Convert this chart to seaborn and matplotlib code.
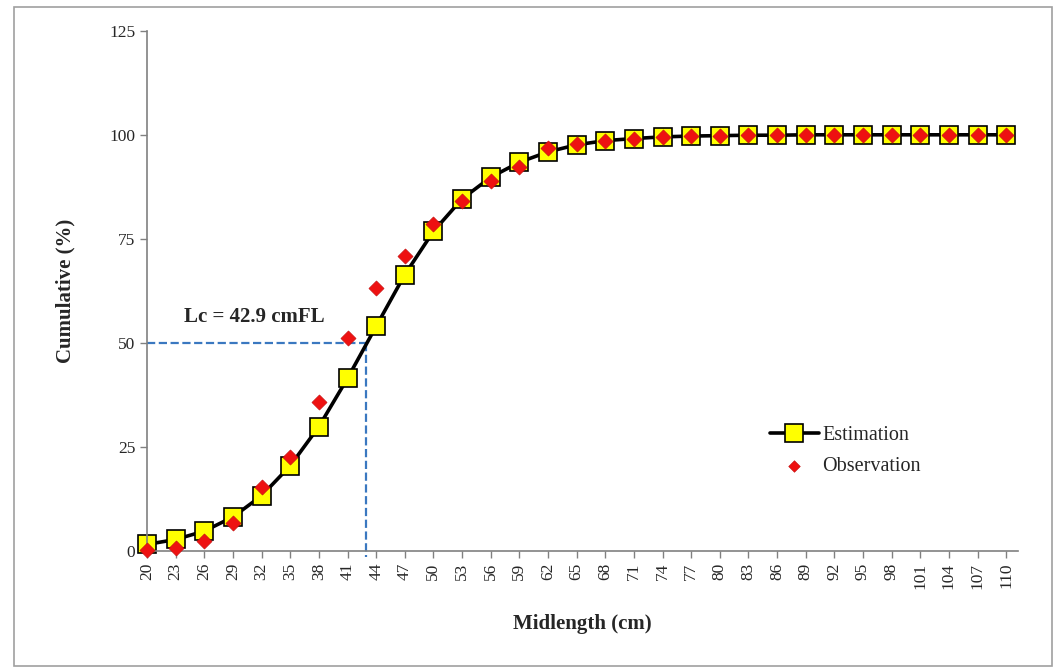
import numpy as np
import pandas as pd
import seaborn as sns
import matplotlib.pyplot as plt
from matplotlib.patches import Rectangle

# data
midlength = [20, 23, 26, 29, 32, 35, 38, 41, 44, 47, 50, 53, 56, 59, 62, 65,
             68, 71, 74, 77, 80, 83, 86, 89, 92, 95, 98, 101, 104, 107, 110]
estimation = [1.6, 2.8, 4.8, 8.2, 13.3, 20.5, 29.9, 41.5, 54.0, 66.4, 76.8, 84.6,
              89.8, 93.4, 95.9, 97.6, 98.6, 99.1, 99.5, 99.7, 99.8, 99.9, 99.9,
              100, 100, 100, 100, 100, 100, 100, 100]
observation = [0.2, 0.8, 2.4, 6.8, 15.4, 22.6, 35.8, 51.3, 63.3, 70.8, 78.5, 84.0,
               89.0, 92.3, 96.9, 97.9, 98.4, 99.0, 99.4, 99.7, 99.8, 99.9, 99.9,
               100, 100, 100, 100, 100, 100, 100, 100]
lc = 42.9

df = pd.DataFrame({'pos': np.arange(len(midlength)), 'Midlength': midlength,
                   'Estimation': estimation, 'Observation': observation})

sns.set_style('white')
plt.rcParams['font.family'] = ['Liberation Serif', 'DejaVu Serif']

fig = plt.figure(figsize=(10.54, 6.68), dpi=100)
ax = fig.add_axes([0.1395, 0.175, 0.826, 0.779])

# chart area border
fig.patches.append(Rectangle((0.013, 0.003), 0.985, 0.987, transform=fig.transFigure,
                             fill=False, edgecolor='#a0a0a0', linewidth=1.2))

# Lc reference lines
lc_pos = (lc - midlength[0]) / (midlength[1] - midlength[0])
ax.plot([0, lc_pos], [50, 50], ls='--', color='#3a78c0', lw=1.6, clip_on=False)
ax.plot([lc_pos, lc_pos], [50, -1.5], ls='--', color='#3a78c0', lw=1.6, clip_on=False)

sns.lineplot(data=df, x='pos', y='Estimation', ax=ax, color='black', lw=2.6,
             marker='s', markersize=13, markerfacecolor='#ffff00',
             markeredgecolor='black', markeredgewidth=1.2, label='Estimation',
             clip_on=False)
sns.scatterplot(data=df, x='pos', y='Observation', ax=ax, color='#ee1111',
                marker='D', s=60, edgecolor='#c01010', linewidth=0.4,
                label='Observation', clip_on=False, zorder=5)

ax.text(1.3, 53.8, 'Lc = 42.9 cmFL', fontsize=15, fontweight='bold', va='bottom')

ax.set_xlim(0, len(midlength) - 0.6)
ax.set_ylim(0, 125)
ax.set_xticks(df['pos'])
ax.set_xticklabels([str(m) for m in midlength], rotation=90, fontsize=12.5)
ax.set_yticks([0, 25, 50, 75, 100, 125])
ax.set_yticklabels(['0', '25', '50', '75', '100', '125'], fontsize=12.5)
ax.tick_params(axis='both', direction='out', length=5, color='#808080', width=1)
ax.xaxis.set_ticks_position('bottom')
ax.yaxis.set_ticks_position('left')
sns.despine(ax=ax)
for s in ['left', 'bottom']:
    ax.spines[s].set_color('#808080')
    ax.spines[s].set_linewidth(1.2)

ax.set_xlabel('Midlength (cm)', fontsize=15, fontweight='bold', labelpad=18)
ax.set_ylabel('Cumulative (%)', fontsize=15, fontweight='bold', labelpad=24)

leg = ax.legend(loc='upper left', bbox_to_anchor=(0.695, 0.275), frameon=False,
                fontsize=14.5, handlelength=2.4, handletextpad=0.2, labelspacing=0.6)
leg.legend_handles[1].set_sizes([35])

fig.savefig('out.png', dpi=100)
